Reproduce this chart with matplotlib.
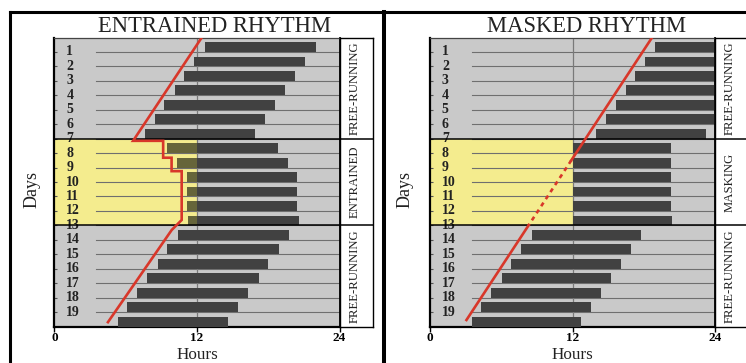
import matplotlib
matplotlib.use("Agg")
import matplotlib.pyplot as plt
from matplotlib.lines import Line2D
from matplotlib.patches import Rectangle

plt.rcParams['font.family'] = ['Liberation Serif', 'DejaVu Serif']

# day rows (bar index 1..20) and labelled day lines
days = list(range(1, 21))
day_labels = [str(d) for d in range(1, 20)]
hour_ticks = [0, 12, 24]

# entrained panel: activity onset / offset (hours)
ent_start = [12.68, 11.75, 10.93, 10.12, 9.21, 8.43, 7.58,
             9.44, 10.28, 11.13, 11.13, 11.13, 11.2,
             10.42, 9.49, 8.68, 7.83, 6.93, 6.14, 5.35]
ent_end = [21.98, 21.13, 20.23, 19.44, 18.54, 17.69, 16.9,
           18.82, 19.64, 20.43, 20.43, 20.43, 20.6,
           19.72, 18.87, 17.97, 17.19, 16.26, 15.44, 14.65]
ent_red_h = [12.4, 6.62, 9.15, 9.15, 9.86, 9.86, 10.71, 10.71, 9.87, 4.5]
ent_red_d = [0, 7.15, 7.15, 8.32, 8.32, 9.25, 9.25, 12.63, 13.32, 19.7]

# masked panel
mask_start = [18.98, 18.14, 17.3, 16.52, 15.63, 14.79, 14.0,
              12.0, 12.0, 12.0, 12.0, 12.0, 12.0,
              8.57, 7.67, 6.84, 6.06, 5.16, 4.32, 3.57]
mask_end = [23.9, 23.9, 23.9, 23.9, 23.9, 23.9, 23.25,
            20.3, 20.3, 20.3, 20.3, 20.3, 20.4,
            17.78, 16.95, 16.05, 15.27, 14.37, 13.53, 12.75]
mask_red_h = [18.7, 11.9]
mask_red_d = [0, 8.5]
mask_dash_h = [11.9, 8.3]
mask_dash_d = [8.5, 13.0]
mask_red2_h = [8.3, 3.07]
mask_red2_d = [13.0, 19.55]

# phases: (first line, last line, name)
ent_phases = [(0, 7, 'FREE-RUNNING'), (7, 13, 'ENTRAINED'), (13, 20, 'FREE-RUNNING')]
mask_phases = [(0, 7, 'FREE-RUNNING'), (7, 13, 'MASKING'), (13, 20, 'FREE-RUNNING')]

BG = '#c9c9c9'
BAR = '#414141'
YEL = '#f4ec8e'
OLIVE = '#66653a'
RED = '#d8372a'
GRID = '#6f6f6f'

W, H = 746, 363
fig = plt.figure(figsize=(W / 100, H / 100), dpi=100)


def px(x0, y0, w, h):
    return [x0 / W, 1 - (y0 + h) / H, w / W, h / H]


def panel(x0, title, starts, ends, phases, olive, title_x, days_x):
    ax = fig.add_axes(px(x0, 37.5, 285, 289))
    ax.set_facecolor(BG)
    ax.set_xlim(0, 24)
    ax.set_ylim(20, 0)

    # light (yellow) block during the middle phase
    ax.add_patch(Rectangle((0, 7), 12, 6, facecolor=YEL, edgecolor='none', zorder=1))
    for d in range(1, 20):
        ax.plot([3.5, 24], [d, d], color=GRID, lw=0.8, zorder=2)
    ax.axvline(12, color='#7a7a7a', lw=0.9, zorder=2)

    for d, s, e in zip(days, starts, ends):
        yc = d - 0.34
        if olive and 7 < d <= 13 and s < 12:
            ax.barh(yc, 12 - s, left=s, height=0.68, color=OLIVE, zorder=3)
            ax.barh(yc, e - 12, left=12, height=0.68, color=BAR, zorder=3)
        else:
            ax.barh(yc, e - s, left=s, height=0.68, color=BAR, zorder=3)

    for lo, hi, name in phases[1:]:
        ax.plot([0, 24], [lo, lo], color='black', lw=1.1, zorder=4)

    for i, lab in enumerate(day_labels):
        ax.text(1.0, i + 1, lab, ha='left', va='center', fontsize=10,
                fontweight='bold', color='#222222', zorder=2.5)

    ax.set_xticks(hour_ticks)
    ax.set_xticklabels([str(h) for h in hour_ticks], fontsize=9.5, fontweight='bold')
    ax.tick_params(axis='x', direction='out', length=3.8, width=1, pad=0.5)
    ax.set_yticks(range(1, 20))
    ax.set_yticklabels([])
    ax.tick_params(axis='y', direction='in', length=2.5, width=0.8, color='#555555')

    for side in ['left', 'bottom']:
        ax.spines[side].set_linewidth(1.6)
    ax.spines['right'].set_linewidth(1.3)
    ax.spines['top'].set_linewidth(0.9)
    ax.spines['top'].set_color('#444444')

    # phase label box on the right
    lb = fig.add_axes(px(x0 + 285, 37.5, 33, 289))
    lb.set_xlim(0, 1)
    lb.set_ylim(20, 0)
    lb.set_xticks([])
    lb.set_yticks([])
    for sp in lb.spines.values():
        sp.set_linewidth(1.0)
    for lo, hi, name in phases:
        if lo > 0:
            lb.plot([0, 1], [lo, lo], color='black', lw=1.1)
        lb.text(0.45, (lo + hi) / 2, name, rotation=90, ha='center', va='center',
                fontsize=9.2, color='#222222')

    fig.text(title_x / W, 1 - 26 / H, title, ha='center', va='center', fontsize=16.3,
             color='#222222')
    fig.text(days_x / W, 1 - 189 / H, 'Days', rotation=90, ha='center', va='center',
             fontsize=13, color='#222222')
    fig.text((x0 + 142.5) / W, 0.0, 'Hours', ha='center', va='bottom',
             fontsize=12.3, color='#222222')
    return ax


ax1 = panel(54.5, 'ENTRAINED RHYTHM', ent_start, ent_end, ent_phases, True, 215, 32)
ax1.plot(ent_red_h, ent_red_d, color=RED, lw=1.9, zorder=5, solid_joinstyle='miter')

ax2 = panel(430, 'MASKED RHYTHM', mask_start, mask_end, mask_phases, False, 587, 405)
ax2.plot(mask_red_h, mask_red_d, color=RED, lw=1.9, zorder=5)
ax2.plot(mask_dash_h, mask_dash_d, color=RED, lw=1.9, zorder=5, linestyle=(0, (1.6, 1.6)))
ax2.plot(mask_red2_h, mask_red2_d, color=RED, lw=1.9, zorder=5)

# outer panel frames
top = 1 - 11.5 / H
fig.add_artist(Line2D([10 / W, 1], [top, top], color='black', lw=2.2))
fig.add_artist(Line2D([10 / W, 10 / W], [0, top], color='black', lw=2.2))
fig.add_artist(Line2D([384.5 / W, 384.5 / W], [0, top], color='black', lw=2.9))

fig.savefig('out.png', dpi=100)
